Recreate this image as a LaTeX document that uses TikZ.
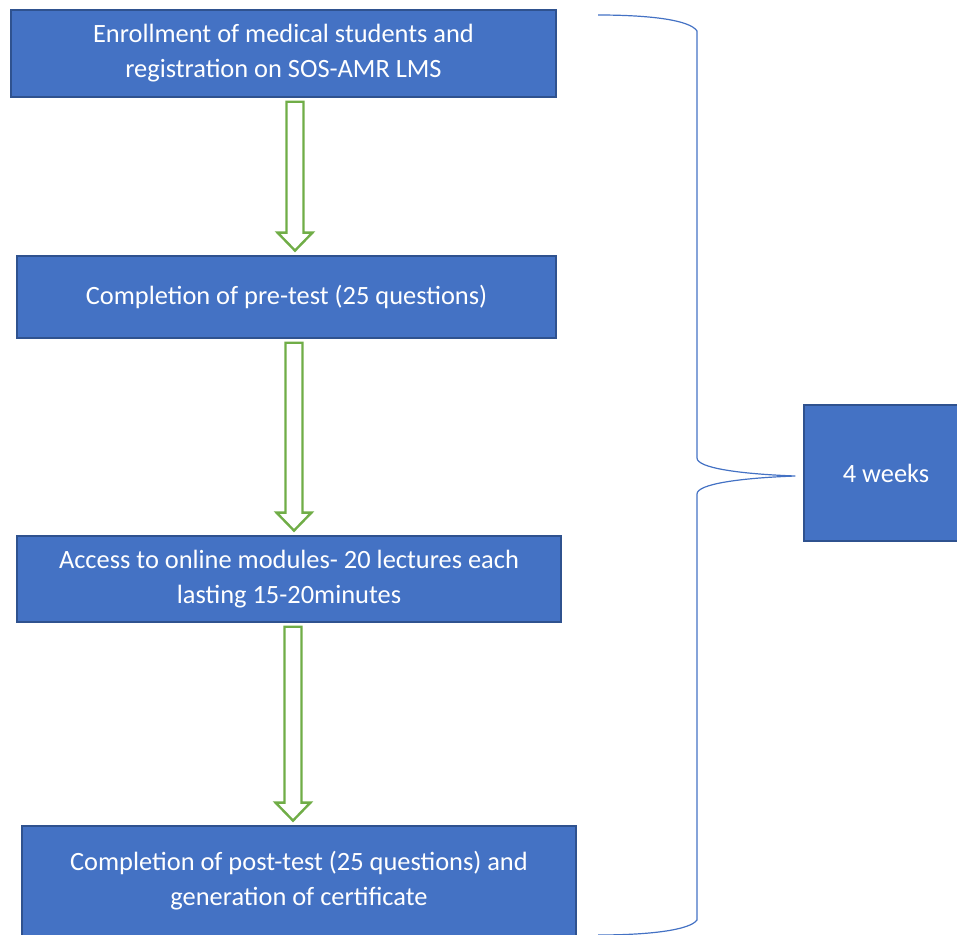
\documentclass[tikz,border=0pt]{standalone}
\usepackage{fontspec}
\setmainfont{Carlito}
\usepackage{tikz}
\usetikzlibrary{calc}

\definecolor{boxblue}{HTML}{4472C4}
\definecolor{boxedge}{HTML}{2F528F}
\definecolor{arrowgreen}{HTML}{70AD47}

% hollow block arrow between two boxes, #3 = x of its axis
\newcommand{\hollowarrow}[3]{%
  \draw[flowarrow] let \p1=(#1.south), \p2=(#2.north), \p3=(#3,0) in
    (\x3-6.4pt,\y1-3pt) -- (\x3+6.4pt,\y1-3pt) -- (\x3+6.4pt,\y2+17pt)
    -- (\x3+13.1pt,\y2+17pt) -- (\x3,\y2+3.5pt) -- (\x3-13.1pt,\y2+17pt)
    -- (\x3-6.4pt,\y2+17pt) -- cycle;}

\begin{document}
\begin{tikzpicture}[x=0.75pt,y=-0.75pt]
\tikzstyle{stepbox}=[draw=boxedge,line width=1.1pt,fill=boxblue,text=white,align=center,inner sep=0pt,font=\fontsize{19.8}{26.25}\selectfont];
\tikzstyle{flowarrow}=[draw=arrowgreen,line width=1.8pt,fill=white,line join=miter];
\tikzstyle{brace}=[draw=boxblue,line width=0.9pt];
\useasboundingbox (0,0) rectangle (957,935);
\clip (0,0) rectangle (957,935);

\node[stepbox,minimum width=545*0.75pt,minimum height=87*0.75pt] (enrol) at (283.5,53.5)
  {Enrollment of medical students and\\registration on SOS-AMR LMS};
\node[stepbox,minimum width=539*0.75pt,minimum height=82*0.75pt] (pretest) at (286.5,297)
  {Completion of pre-test (25 questions)};
\node[stepbox,minimum width=544*0.75pt,minimum height=86*0.75pt] (modules) at (289,579)
  {Access to online modules- 20 lectures each\\lasting 15-20minutes};
\node[stepbox,minimum width=554*0.75pt,minimum height=110*0.75pt] (posttest) at (299,881)
  {Completion of post-test (25 questions) and\\generation of certificate};
\node[stepbox,minimum width=164*0.75pt,minimum height=136*0.75pt] (weeks) at (886,473)
  {4 weeks};

\hollowarrow{enrol}{pretest}{295}
\hollowarrow{pretest}{modules}{294}
\hollowarrow{modules}{posttest}{293}

% brace round the four steps
\coordinate (bracetip) at ($(weeks.west)+(-8,3)$);
\draw[brace] (598,15) .. controls (650,15) and (690,20) .. (697,31) -- (697,458)
  .. controls (697,468) and (740,474) .. (bracetip)
  .. controls (740,478) and (697,484) .. (697,494) -- (697,920)
  .. controls (690,930) and (650,935) .. (598,935);
\end{tikzpicture}
\end{document}
